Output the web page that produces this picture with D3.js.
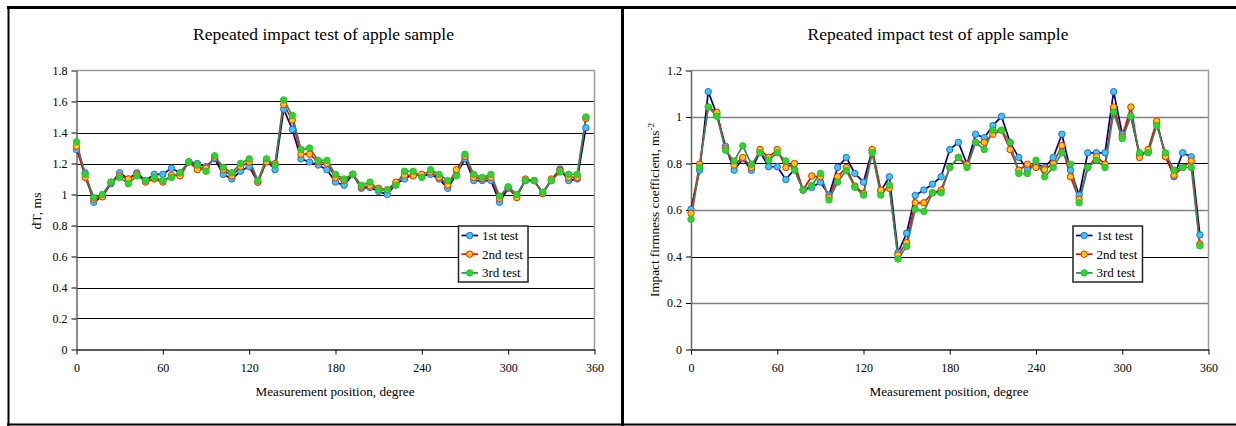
<!DOCTYPE html>
<html>
<head>
<meta charset="utf-8">
<script src="https://cdn.jsdelivr.net/npm/d3@7"></script>
<style>
  html, body { margin: 0; padding: 0; background: #fff; }
  svg text { font-family: "Liberation Serif", "Times New Roman", "DejaVu Serif", serif !important; fill: #000; }
</style>
</head>
<body>
<svg id="chart" width="1236" height="426" font-family="'Liberation Serif', serif"></svg>
<script>
// ---------------- data ----------------
const positions = [0,6,12,18,24,30,36,42,48,54,60,66,72,78,84,90,96,102,108,114,120,126,132,138,144,150,156,162,168,174,
                   180,186,192,198,204,210,216,222,228,234,240,246,252,258,264,270,276,282,288,294,300,306,312,318,324,330,336,342,348,354];
const seriesNames = ["1st test", "2nd test", "3rd test"];
const xTicks = [0, 60, 120, 180, 240, 300, 360];
const dTTicks = [0, 0.2, 0.4, 0.6, 0.8, 1, 1.2, 1.4, 1.6, 1.8];
const ifcTicks = [0, 0.2, 0.4, 0.6, 0.8, 1, 1.2];

const dT1 = [1.29,1.14,0.95,0.99,1.07,1.14,1.10,1.14,1.09,1.13,1.13,1.17,1.14,1.21,1.20,1.18,1.23,1.13,1.10,1.15,
             1.18,1.08,1.22,1.16,1.55,1.42,1.23,1.21,1.19,1.16,1.08,1.06,1.13,1.04,1.045,1.02,1.00,1.07,1.10,1.13,
             1.12,1.13,1.10,1.04,1.13,1.23,1.09,1.09,1.09,0.95,1.04,0.995,1.09,1.09,1.01,1.09,1.165,1.09,1.10,1.43];
const dT2 = [1.31,1.11,0.97,0.985,1.08,1.12,1.10,1.13,1.08,1.10,1.08,1.125,1.12,1.21,1.16,1.17,1.24,1.16,1.12,1.18,
             1.21,1.08,1.21,1.20,1.58,1.48,1.26,1.26,1.21,1.20,1.11,1.09,1.13,1.05,1.055,1.04,1.03,1.08,1.125,1.12,
             1.13,1.145,1.11,1.06,1.16,1.245,1.11,1.10,1.11,0.975,1.045,0.98,1.10,1.09,1.005,1.10,1.155,1.11,1.11,1.49];
const dT3 = [1.34,1.13,0.98,1.00,1.08,1.11,1.07,1.12,1.09,1.11,1.09,1.11,1.14,1.21,1.19,1.15,1.25,1.175,1.14,1.20,
             1.23,1.09,1.23,1.19,1.61,1.51,1.29,1.30,1.22,1.22,1.13,1.10,1.13,1.06,1.08,1.03,1.03,1.06,1.15,1.15,
             1.11,1.16,1.13,1.09,1.12,1.26,1.13,1.11,1.13,0.99,1.05,1.00,1.09,1.09,1.015,1.09,1.145,1.13,1.13,1.50];

const ifc1 = [0.603,0.771,1.109,1.01,0.874,0.771,0.82,0.771,0.85,0.786,0.786,0.731,0.775,0.686,0.697,0.72,0.664,0.783,0.826,0.757,
              0.72,0.857,0.68,0.743,0.417,0.50,0.663,0.686,0.711,0.743,0.86,0.891,0.797,0.926,0.911,0.963,1.003,0.89,0.826,0.774,
              0.80,0.783,0.826,0.926,0.771,0.664,0.846,0.846,0.846,1.109,0.926,1.003,0.836,0.85,0.974,0.836,0.743,0.846,0.829,0.493];
const ifc2 = [0.586,0.797,1.043,1.02,0.864,0.793,0.826,0.783,0.86,0.826,0.86,0.783,0.80,0.686,0.746,0.743,0.654,0.743,0.783,0.703,
              0.671,0.86,0.686,0.693,0.407,0.46,0.631,0.631,0.674,0.686,0.783,0.826,0.795,0.891,0.891,0.926,0.943,0.86,0.771,0.797,
              0.783,0.774,0.80,0.877,0.743,0.646,0.783,0.829,0.797,1.043,0.914,1.043,0.826,0.86,0.983,0.829,0.75,0.783,0.811,0.454];
const ifc3 = [0.56,0.783,1.043,1.003,0.857,0.811,0.876,0.797,0.846,0.814,0.846,0.811,0.771,0.686,0.706,0.757,0.643,0.72,0.769,0.697,
              0.664,0.846,0.664,0.707,0.389,0.443,0.603,0.594,0.674,0.674,0.783,0.826,0.783,0.891,0.86,0.943,0.943,0.891,0.757,0.757,
              0.814,0.743,0.783,0.846,0.797,0.631,0.783,0.814,0.783,1.021,0.907,1.003,0.846,0.846,0.963,0.846,0.771,0.783,0.783,0.446];

// ---------------- styles ----------------
const SERIF = "'Liberation Serif', 'Times New Roman', 'DejaVu Serif', serif";
const lineColors   = ["#000080", "#FF0000", "#2E8B57"];
const markerFill   = ["#33CCFF", "#FFCC00", "#22DD22"];
const markerStroke = ["#3366CC", "#FF2200", "#33BB33"];

const svg = d3.select("#chart");

// outer frame
svg.append("line").attr("x1", 7).attr("x2", 1236).attr("y1", 7.5).attr("y2", 7.5).attr("stroke", "#000").attr("stroke-width", 3);
svg.append("line").attr("x1", 8.5).attr("x2", 8.5).attr("y1", 6).attr("y2", 426).attr("stroke", "#000").attr("stroke-width", 2);
svg.append("line").attr("x1", 7).attr("x2", 624).attr("y1", 424.5).attr("y2", 424.5).attr("stroke", "#000").attr("stroke-width", 2);
svg.append("line").attr("x1", 622.5).attr("x2", 622.5).attr("y1", 6).attr("y2", 426).attr("stroke", "#000").attr("stroke-width", 3);
svg.append("line").attr("x1", 621).attr("x2", 1236).attr("y1", 424.5).attr("y2", 424.5).attr("stroke", "#000").attr("stroke-width", 2);

function drawChart(opt) {
  const g = svg.append("g");
  const x = d3.scaleLinear().domain([0, 360]).range([opt.left, opt.right]);
  const y = d3.scaleLinear().domain([0, opt.yMax]).range([349.5, 70.5]);

  // gridlines
  g.append("g").selectAll("line")
    .data(opt.yTicks.filter(t => t > 0 && t < opt.yMax))
    .join("line")
    .attr("x1", opt.left).attr("x2", opt.right)
    .attr("y1", d => Math.round(y(d)) + 0.5).attr("y2", d => Math.round(y(d)) + 0.5)
    .attr("stroke", d => opt.greyGrid && opt.greyGrid.includes(d) ? "#808080" : "#000")
    .attr("stroke-width", d => opt.greyGrid && opt.greyGrid.includes(d) ? 1.6 : 1.2);

  // plot area top & right (grey)
  g.append("path")
    .attr("d", `M${opt.left},${y(opt.yMax)}H${opt.right}V${y(0)}`)
    .attr("fill", "none").attr("stroke", "#9a9a9a").attr("stroke-width", 1.5);

  // axes
  const xAxis = g.append("g").attr("transform", `translate(0,${y(0)})`)
    .call(d3.axisBottom(x).tickValues(opt.xTicks).tickSize(5).tickSizeOuter(0).tickFormat(d3.format("d")));
  xAxis.attr("font-family", SERIF).attr("font-size", 12);
  xAxis.select(".domain").attr("stroke", "#222").attr("stroke-width", 1.5);
  xAxis.selectAll(".tick line").attr("stroke", "#000");
  xAxis.selectAll(".tick text").attr("font-size", 12).attr("dy", "0").attr("y", 22)
    .style("font-family", SERIF);

  const yAxis = g.append("g").attr("transform", `translate(${opt.left},0)`)
    .call(d3.axisLeft(y).tickValues(opt.yTicks).tickSize(5).tickSizeOuter(0).tickFormat(d => String(+d.toFixed(1))));
  yAxis.attr("font-family", SERIF).attr("font-size", 12);
  yAxis.select(".domain").attr("stroke", "#666").attr("stroke-width", 1.5);
  yAxis.selectAll(".tick line").attr("stroke", "#000");
  yAxis.selectAll(".tick text").attr("font-size", 12).attr("x", -9)
    .style("font-family", SERIF);

  // series lines and markers
  opt.series.forEach((vals, s) => {
    const pts = positions.map((p, i) => [p, vals[i]]);
    g.append("path")
      .datum(pts)
      .attr("fill", "none")
      .attr("stroke", lineColors[s])
      .attr("stroke-width", 1.7)
      .attr("stroke-linejoin", "round")
      .attr("d", d3.line().x(d => x(d[0])).y(d => y(d[1])));
  });
  opt.series.forEach((vals, s) => {
    g.append("g").selectAll("circle")
      .data(positions.map((p, i) => [p, vals[i]]))
      .join("circle")
      .attr("cx", d => x(d[0])).attr("cy", d => y(d[1]))
      .attr("r", 3.2)
      .attr("fill", markerFill[s])
      .attr("stroke", markerStroke[s])
      .attr("stroke-width", 1);
  });

  // title
  g.append("text").attr("x", opt.titleX).attr("y", 40)
    .attr("text-anchor", "middle").attr("font-size", 17)
    .style("font-family", SERIF)
    .attr("textLength", 261).attr("lengthAdjust", "spacingAndGlyphs")
    .text("Repeated impact test of apple sample");

  // x label
  g.append("text").attr("x", opt.xLabelX).attr("y", 396)
    .attr("text-anchor", "middle").attr("font-size", 13)
    .style("font-family", SERIF)
    .attr("textLength", 159).attr("lengthAdjust", "spacingAndGlyphs")
    .text("Measurement position, degree");

  // y label
  const yl = g.append("text")
    .attr("transform", `translate(${opt.yLabelX},${opt.yLabelY}) rotate(-90)`)
    .attr("text-anchor", "middle").attr("font-size", 13)
    .style("font-family", SERIF)
    .attr("textLength", opt.yLabelLen).attr("lengthAdjust", "spacingAndGlyphs");
  yl.append("tspan").text(opt.yLabel);
  if (opt.yLabelSup) {
    yl.append("tspan").attr("font-size", 9).attr("dy", -5).text(opt.yLabelSup);
  }

  // legend
  const lg = g.append("g").attr("transform", `translate(${opt.legendX},226)`);
  lg.append("rect").attr("x", 0).attr("y", 0).attr("width", 69.5).attr("height", 56)
    .attr("fill", "#fff").attr("stroke", "#222").attr("stroke-width", 1.5);
  seriesNames.forEach((name, s) => {
    const cy = 9.5 + s * 18.7;
    lg.append("line").attr("x1", 3).attr("x2", 19.5).attr("y1", cy).attr("y2", cy)
      .attr("stroke", lineColors[s]).attr("stroke-width", 1.7);
    lg.append("circle").attr("cx", 11.2).attr("cy", cy).attr("r", 3.2)
      .attr("fill", markerFill[s]).attr("stroke", markerStroke[s]).attr("stroke-width", 1);
    lg.append("text").attr("x", 23.5).attr("y", cy + 4.5).attr("font-size", 13)
      .style("font-family", SERIF).text(name);
  });
}

drawChart({
  left: 76.5, right: 594.5, yMax: 1.8, yTicks: dTTicks, xTicks: xTicks,
  series: [dT1, dT2, dT3],
  titleX: 323.5, xLabelX: 335, yLabelX: 41, yLabelY: 211, yLabel: "dT, ms", yLabelLen: 37,
  legendX: 458.5
});

drawChart({
  left: 691, right: 1208.5, yMax: 1.2, yTicks: ifcTicks, xTicks: xTicks,
  series: [ifc1, ifc2, ifc3], greyGrid: [0.2, 0.6, 1],
  titleX: 938, xLabelX: 949, yLabelX: 659, yLabelY: 210,
  yLabel: "Impact firmness coefficient, ms", yLabelSup: "-2", yLabelLen: 174,
  legendX: 1073
});
</script>
</body>
</html>
